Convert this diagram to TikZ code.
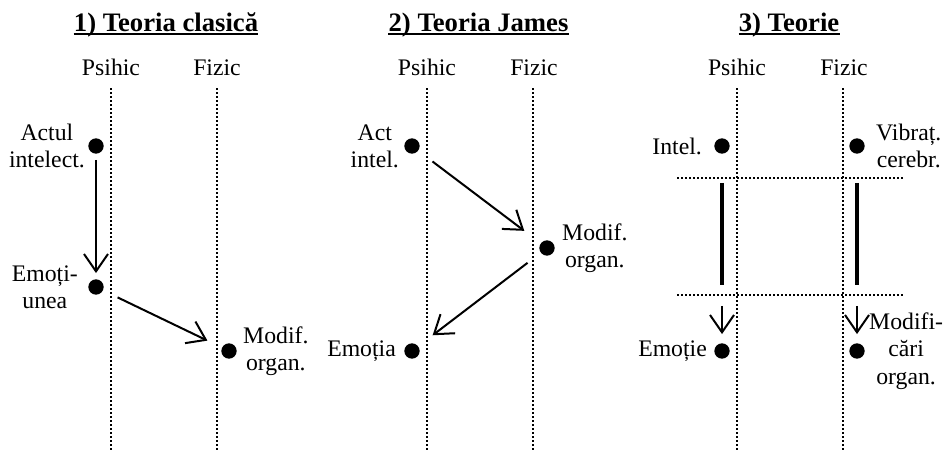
\documentclass[tikz,border=0pt]{standalone}
\usepackage{fontspec}
\setmainfont{Liberation Serif}
\usetikzlibrary{positioning, arrows.meta}

\tikzset{
  dot/.style={circle, fill, inner sep=0pt, minimum size=11.5pt},
  lbl/.style={inner sep=0pt, align=center, font=\fontsize{17.8}{20.5}\selectfont},
  headline/.style={inner sep=0pt, font=\fontsize{20}{24}\selectfont\bfseries},
  uline/.style={line width=1.3pt},
  dotrule/.style={line width=1.5pt, dash pattern=on 1.5pt off 1.5pt},
  arr/.style={-{Straight Barb[length=13pt,width=18pt]}, line width=1.5pt},
  thickbar/.style={line width=2.4pt}
}

\begin{document}
\begin{tikzpicture}[x=0.75pt, y=-0.75pt]
  \useasboundingbox (0,0) rectangle (944,450);

  % 1) Teoria clasica
  \node (t1) [headline, anchor=base] at (166,31) {1) Teoria clasică};
  \draw[uline] ([yshift=-2pt]t1.base west) -- ([yshift=-2pt]t1.base east);
  \node (p1) [lbl, anchor=base] at (111,75.5) {Psihic};
  \node (f1) [lbl, anchor=base] at (217,75.5) {Fizic};
  \draw[dotrule] (111,88) -- (111,450);
  \draw[dotrule] (217,88) -- (217,450);
  \begin{scope}[every node/.style={dot}]
    \node (a1) at (96,146) {};
    \node (a2) at (96,287) {};
    \node (a3) at (229,351) {};
  \end{scope}
  \node [lbl, left=2.25pt of a1] {Actul\\intelect.};
  \node [lbl, left=7.5pt of a2] {Emoți-\\unea};
  \node [lbl, right=4.5pt of a3] {Modif.\\organ.};
  \draw[arr, shorten <=4.5pt, shorten >=4.5pt] (a1) -- (a2);
  \draw[arr, shorten <=12pt, shorten >=12pt] (a2) -- (a3);

  % 2) Teoria James
  \node (t2) [headline, anchor=base] at (478.5,31) {2) Teoria James};
  \draw[uline] ([yshift=-2pt]t2.base west) -- ([yshift=-2pt]t2.base east);
  \node (p2) [lbl, anchor=base] at (427,75.5) {Psihic};
  \node (f2) [lbl, anchor=base] at (534,75.5) {Fizic};
  \draw[dotrule] (427,88) -- (427,450);
  \draw[dotrule] (533,88) -- (533,450);
  \begin{scope}[every node/.style={dot}]
    \node (b1) at (412,146) {};
    \node (b2) at (547,248) {};
    \node (b3) at (412,351) {};
  \end{scope}
  \node [lbl, left=3.75pt of b1] {Act\\intel.};
  \node [lbl, right=5.25pt of b2] {Modif.\\organ.};
  \node [lbl, left=6pt of b3] {Emoția};
  \draw[arr, shorten <=13.3pt, shorten >=15.4pt] (b1) -- (b2);
  \draw[arr, shorten <=12.4pt, shorten >=13.5pt] (b2) -- (b3);

  % 3) Teorie
  \node (t3) [headline, anchor=base] at (789,31) {3) Teorie};
  \draw[uline] ([yshift=-2pt]t3.base west) -- ([yshift=-2pt]t3.base east);
  \node (p3) [lbl, anchor=base] at (737,75.5) {Psihic};
  \node (f3) [lbl, anchor=base] at (844,75.5) {Fizic};
  \draw[dotrule] (737,88) -- (737,450);
  \draw[dotrule] (843,88) -- (843,450);
  \draw[dotrule] (677,178) -- (903,178);
  \draw[dotrule] (677,295) -- (903,295);
  \begin{scope}[every node/.style={dot}]
    \node (c1) at (722,146) {};
    \node (c2) at (857,146) {};
    \node (c3) at (722,351) {};
    \node (c4) at (857,351) {};
  \end{scope}
  \node [lbl, left=9pt of c1] {Intel.};
  \node [lbl, right=8.25pt of c2] {Vibraț.\\cerebr.};
  \node [lbl, left=5.25pt of c3] {Emoție};
  \node [lbl, right=3pt of c4] {Modifi-\\cări\\organ.};
  \draw[thickbar, shorten <=21.75pt, shorten >=43.5pt] (c1) -- (c3);
  \draw[thickbar, shorten <=21.75pt, shorten >=43.5pt] (c2) -- (c4);
  \draw[arr, shorten <=114pt, shorten >=6.75pt] (c1) -- (c3);
  \draw[arr, shorten <=114pt, shorten >=6.75pt] (c2) -- (c4);
\end{tikzpicture}
\end{document}
